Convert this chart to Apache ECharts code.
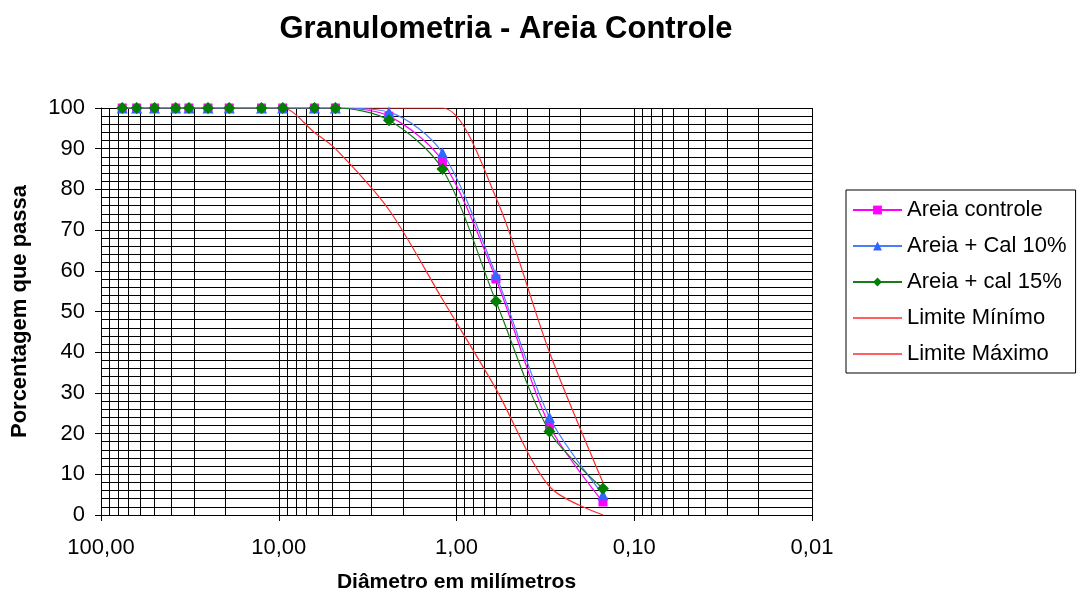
<!DOCTYPE html>
<html>
<head>
<meta charset="utf-8">
<script src="https://cdn.jsdelivr.net/npm/echarts@6/dist/echarts.min.js"></script>
<style>
html,body{margin:0;padding:0;background:#fff;}
#chart{width:1083px;height:598px;}
</style>
</head>
<body>
<div id="chart"></div>
<script>
// Sieve openings (mm)
const sieves = [76, 63, 50, 38, 32, 25, 19, 12.5, 9.5, 6.3, 4.8, 2.4, 1.2, 0.6, 0.3, 0.15];
// Percent passing
const areiaControle = [100, 100, 100, 100, 100, 100, 100, 100, 100, 100, 100, 98, 87, 58, 22, 3.2];
const areiaCal10    = [100, 100, 100, 100, 100, 100, 100, 100, 100, 100, 100, 99, 89, 59, 24, 5];
const areiaCal15    = [100, 100, 100, 100, 100, 100, 100, 100, 100, 100, 100, 97, 85, 52.5, 20.5, 6.5];
const limiteMinimo  = [100, 100, 100, 100, 100, 100, 100, 100, 100, 94, 90, 75, 53, 31, 7, 0];
const limiteMaximo  = [100, 100, 100, 100, 100, 100, 100, 100, 100, 100, 100, 100, 100, 78, 40, 8];
// Vertical grid values (log minor grid)
const xGrid = [];
[0.01, 0.1, 1, 10].forEach(function (d) {
  for (let k = 1; k <= 9; k++) xGrid.push(+(d * k).toPrecision(3));
});
xGrid.push(100);

const FONT = '"Liberation Sans", Arial, sans-serif';
const LINE_ICON = 'path://M0,0L48,0L48,1.5L0,1.5Z';
function pairs(vals) { return sieves.map(function (s, i) { return [s, vals[i]]; }); }

const chart = echarts.init(document.getElementById('chart'), null, { renderer: 'canvas' });
chart.setOption({
  animation: false,
  backgroundColor: '#fff',
  title: {
    text: 'Granulometria - Areia Controle',
    left: 501, top: 9, textAlign: 'center',
    textStyle: { fontFamily: FONT, fontSize: 31, fontWeight: 'bold', color: '#000' }
  },
  grid: { left: 101, right: 271, top: 108, bottom: 81, containLabel: false },
  legend: {
    orient: 'vertical', left: 846, top: 190,
    data: [
      { name: 'Areia controle' },
      { name: 'Areia + Cal 10%' },
      { name: 'Areia + cal 15%' },
      { name: 'Limite Mínímo', icon: LINE_ICON },
      { name: 'Limite Máximo', icon: LINE_ICON }
    ],
    borderColor: '#000', borderWidth: 1, borderRadius: 0,
    padding: [7, 9, 6, 6],
    itemWidth: 49, itemHeight: 11, itemGap: 10,
    textStyle: { fontFamily: FONT, fontSize: 22, color: '#000', lineHeight: 26 }
  },
  xAxis: {
    type: 'log', logBase: 10, min: 0.01, max: 100, inverse: true,
    name: 'Diâmetro em milímetros', nameLocation: 'middle', nameGap: 57,
    nameTextStyle: { fontFamily: FONT, fontSize: 21, fontWeight: 'bold', color: '#000' },
    axisLine: { show: true, onZero: false, lineStyle: { color: '#000', width: 1 } },
    axisTick: { show: true, length: 6, lineStyle: { color: '#000' } },
    axisLabel: {
      fontFamily: FONT, fontSize: 22, color: '#000', margin: 22,
      formatter: function (v) { return Number(v).toFixed(2).replace('.', ','); }
    },
    splitLine: { show: false },
    minorTick: { show: false }
  },
  yAxis: {
    type: 'value', min: 0, max: 100, interval: 10,
    name: 'Porcentagem que passa', nameLocation: 'middle', nameGap: 70,
    nameTextStyle: { fontFamily: FONT, fontSize: 22, fontWeight: 'bold', color: '#000' },
    axisLine: { show: true, lineStyle: { color: '#000', width: 1 } },
    axisTick: { show: true, length: 6, lineStyle: { color: '#000' } },
    axisLabel: { fontFamily: FONT, fontSize: 22, color: '#000', margin: 16 },
    splitLine: { show: true, lineStyle: { color: '#000', width: 1 } },
    minorTick: { show: false, splitNumber: 5 },
    minorSplitLine: { show: true, lineStyle: { color: '#000', width: 1 } }
  },
  series: [
    {
      name: 'Limite Mínímo', type: 'line', data: pairs(limiteMinimo), smooth: 0.3,
      symbol: 'none', z: 2,
      itemStyle: { color: '#ff2a2a' }, lineStyle: { color: '#ff2a2a', width: 1.2 },
      markLine: {
        silent: true, symbol: ['none', 'none'], animation: false, z: 1,
        label: { show: false },
        lineStyle: { color: '#000', width: 1, type: 'solid' },
        data: xGrid.map(function (v) { return { xAxis: v }; })
      }
    },
    {
      name: 'Limite Máximo', type: 'line', data: pairs(limiteMaximo), smooth: 0.3,
      symbol: 'none', z: 2,
      itemStyle: { color: '#ff2a2a' }, lineStyle: { color: '#ff2a2a', width: 1.2 }
    },
    {
      name: 'Areia controle', type: 'line', data: pairs(areiaControle), smooth: 0.3,
      symbol: 'rect', symbolSize: 9, z: 3,
      itemStyle: { color: '#ff00ff' }, lineStyle: { color: '#ff00ff', width: 1.2 }
    },
    {
      name: 'Areia + Cal 10%', type: 'line', data: pairs(areiaCal10), smooth: 0.3,
      symbol: 'triangle', symbolSize: 11, z: 4,
      itemStyle: { color: '#3366ff' }, lineStyle: { color: '#4d7bff', width: 1.2 }
    },
    {
      name: 'Areia + cal 15%', type: 'line', data: pairs(areiaCal15), smooth: 0.3,
      symbol: 'diamond', symbolSize: 12, z: 5,
      itemStyle: { color: '#008000' }, lineStyle: { color: '#1a7a1a', width: 1.2 }
    }
  ]
});
</script>
</body>
</html>
